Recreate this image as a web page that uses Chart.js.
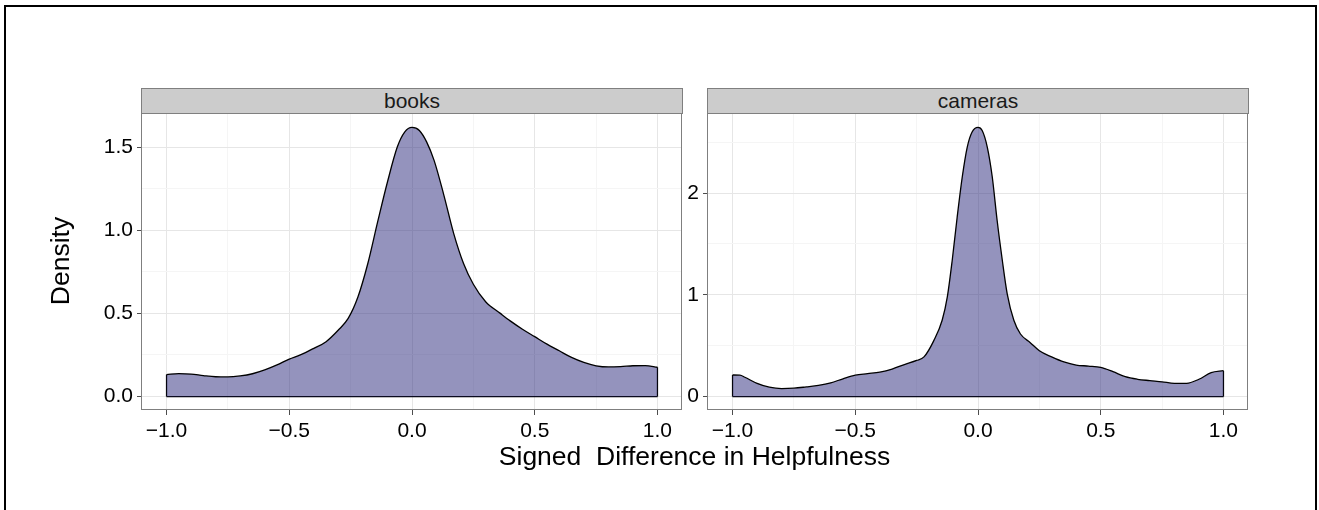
<!DOCTYPE html>
<html>
<head>
<meta charset="utf-8">
<script src="https://cdn.jsdelivr.net/npm/chart.js@4/dist/chart.umd.min.js"></script>
<style>
  html, body { margin: 0; padding: 0; background: #fff; }
  body { width: 1319px; height: 510px; overflow: hidden; position: relative;
         font-family: "Liberation Sans", Arial, Helvetica, sans-serif; }
  #frame { position: absolute; left: 4px; top: 5px; width: 1313px; height: 540px;
           border: 2px solid #000; box-sizing: border-box; }
  canvas { position: absolute; }
  .strip { position: absolute; top: 88px; height: 26px; background: #cccccc;
           border: 1px solid #7f7f7f; box-sizing: border-box; text-align: center;
           font-size: 21px; line-height: 24px; color: #1a1a1a; z-index: 3; }
  .title { position: absolute; font-size: 26.5px; line-height: 30px; color: #000;
           text-align: center; white-space: pre; z-index: 3; }
</style>
</head>
<body>
<div id="frame"></div>
<canvas id="booksChart" width="650" height="380" style="left:40px;top:80px;"></canvas>
<canvas id="camerasChart" width="636" height="380" style="left:620px;top:80px;"></canvas>
<div class="strip" style="left:141px;width:542px;">books</div>
<div class="strip" style="left:707px;width:542px;">cameras</div>
<div class="title" style="left:394.5px;top:441px;width:600px;">Signed  Difference in Helpfulness</div>
<div class="title" style="left:-40.5px;top:246px;width:200px;transform:rotate(-90deg);">Density</div>
<script>
// ---- data ----
const booksX = [-1.0,-0.95,-0.9,-0.85,-0.8,-0.75,-0.7,-0.65,-0.6,-0.55,-0.5,-0.455,-0.4,-0.35,-0.3,-0.26,-0.22,-0.18,-0.14,-0.1,-0.06,-0.03,0.0,0.03,0.06,0.09,0.13,0.17,0.21,0.25,0.3,0.36,0.4,0.45,0.5,0.55,0.6,0.65,0.7,0.75,0.8,0.85,0.9,0.95,1.0];
const booksY = [0.132,0.138,0.135,0.126,0.119,0.118,0.124,0.137,0.160,0.19,0.225,0.25,0.29,0.33,0.40,0.47,0.60,0.80,1.05,1.29,1.50,1.59,1.618,1.60,1.53,1.42,1.21,0.98,0.80,0.675,0.57,0.50,0.455,0.405,0.36,0.315,0.275,0.235,0.205,0.185,0.178,0.18,0.185,0.186,0.176];

const camerasX = [-1.0,-0.97,-0.95,-0.9,-0.85,-0.8,-0.75,-0.7,-0.65,-0.6,-0.55,-0.5,-0.45,-0.4,-0.35,-0.3,-0.25,-0.22,-0.18,-0.146,-0.125,-0.105,-0.085,-0.064,-0.044,-0.024,0.0,0.017,0.038,0.058,0.078,0.099,0.119,0.146,0.173,0.213,0.25,0.3,0.35,0.4,0.45,0.5,0.55,0.6,0.65,0.7,0.75,0.8,0.85,0.9,0.95,1.0];
const camerasY = [0.212,0.21,0.19,0.13,0.092,0.078,0.082,0.095,0.11,0.135,0.175,0.21,0.225,0.24,0.27,0.315,0.355,0.39,0.55,0.75,0.98,1.34,1.76,2.16,2.45,2.60,2.645,2.615,2.45,2.16,1.73,1.34,1.01,0.75,0.615,0.53,0.45,0.39,0.34,0.31,0.30,0.287,0.245,0.195,0.17,0.157,0.145,0.13,0.13,0.17,0.235,0.254];

// ---- ticks / limits ----
const xTickValues = [-1, -0.5, 0, 0.5, 1];
const xTickLabels = ['\u22121.0', '\u22120.5', '0.0', '0.5', '1.0'];
const xMinorTicks = [-0.75, -0.25, 0.25, 0.75];
const xLimits = [-1.1, 1.1];

const booksYTickValues = [0, 0.5, 1, 1.5];
const booksYTickLabels = ['0.0', '0.5', '1.0', '1.5'];
const booksYMinorTicks = [0.25, 0.75, 1.25];
const booksYLimits = [-0.081, 1.699];

const camerasYTickValues = [0, 1, 2];
const camerasYTickLabels = ['0', '1', '2'];
const camerasYMinorTicks = [0.5, 1.5, 2.5];
const camerasYLimits = [-0.132, 2.777];

Chart.defaults.font.family = '"Liberation Sans", Arial, Helvetica, sans-serif';
Chart.defaults.font.size = 21;
Chart.defaults.color = '#000';

const panelBorder = {
  id: 'panelBorder',
  afterDraw(chart) {
    const a = chart.chartArea, c = chart.ctx;
    c.save();
    c.strokeStyle = '#7f7f7f';
    c.lineWidth = 1;
    c.strokeRect(a.left - 0.5, a.top - 0.5, a.right - a.left, a.bottom - a.top);
    c.restore();
  }
};

function axisConf(lim, majors, labels, minors, fitFn) {
  return {
    type: 'linear',
    min: lim[0], max: lim[1],
    afterBuildTicks: s => {
      s.ticks = majors.concat(minors).sort((a, b) => a - b).map(v => ({ value: v }));
    },
    afterFit: fitFn,
    border: { display: false },
    grid: {
      color: ctx => (ctx.tick && majors.indexOf(ctx.tick.value) >= 0) ? '#e6e6e6' : '#f5f5f5',
      tickColor: ctx => (ctx.tick && majors.indexOf(ctx.tick.value) >= 0) ? '#4d4d4d' : 'rgba(0,0,0,0)',
      tickLength: 5,
      lineWidth: 1
    },
    ticks: {
      autoSkip: false, maxRotation: 0, minRotation: 0, padding: 4, color: '#000',
      font: { size: 21 },
      callback: v => { const i = majors.indexOf(v); return i >= 0 ? labels[i] : ''; }
    }
  };
}

function makePanel(id, xs, ys, yMaj, yLab, yMin, yLim, yWidth) {
  const pts = xs.map((x, i) => ({ x: x, y: ys[i] }));
  const n = xs.length - 1;
  const edge = { borderColor: '#000', borderWidth: 1.3, pointRadius: 0, fill: false };
  new Chart(document.getElementById(id), {
    type: 'line',
    data: {
      datasets: [
        { data: pts, borderColor: '#000', borderWidth: 1.3, backgroundColor: 'rgba(41,39,123,0.5)',
          fill: 'origin', pointRadius: 0, cubicInterpolationMode: 'monotone' },
        Object.assign({ data: [{ x: xs[0], y: 0 }, { x: xs[0], y: ys[0] }] }, edge),
        Object.assign({ data: [{ x: xs[n], y: 0 }, { x: xs[n], y: ys[n] }] }, edge),
        Object.assign({ data: [{ x: xs[0], y: 0 }, { x: xs[n], y: 0 }] }, edge)
      ]
    },
    options: {
      responsive: false, animation: false, devicePixelRatio: 1,
      layout: { padding: { top: 34, right: 8, left: 0, bottom: 0 } },
      plugins: { legend: { display: false }, tooltip: { enabled: false }, title: { display: false } },
      scales: {
        x: axisConf(xLimits, xTickValues, xTickLabels, xMinorTicks, s => { s.height = 50; }),
        y: axisConf(yLim, yMaj, yLab, yMin, s => { s.width = yWidth; })
      }
    },
    plugins: [panelBorder]
  });
}

makePanel('booksChart', booksX, booksY, booksYTickValues, booksYTickLabels, booksYMinorTicks, booksYLimits, 102);
makePanel('camerasChart', camerasX, camerasY, camerasYTickValues, camerasYTickLabels, camerasYMinorTicks, camerasYLimits, 88);
</script>
</body>
</html>
